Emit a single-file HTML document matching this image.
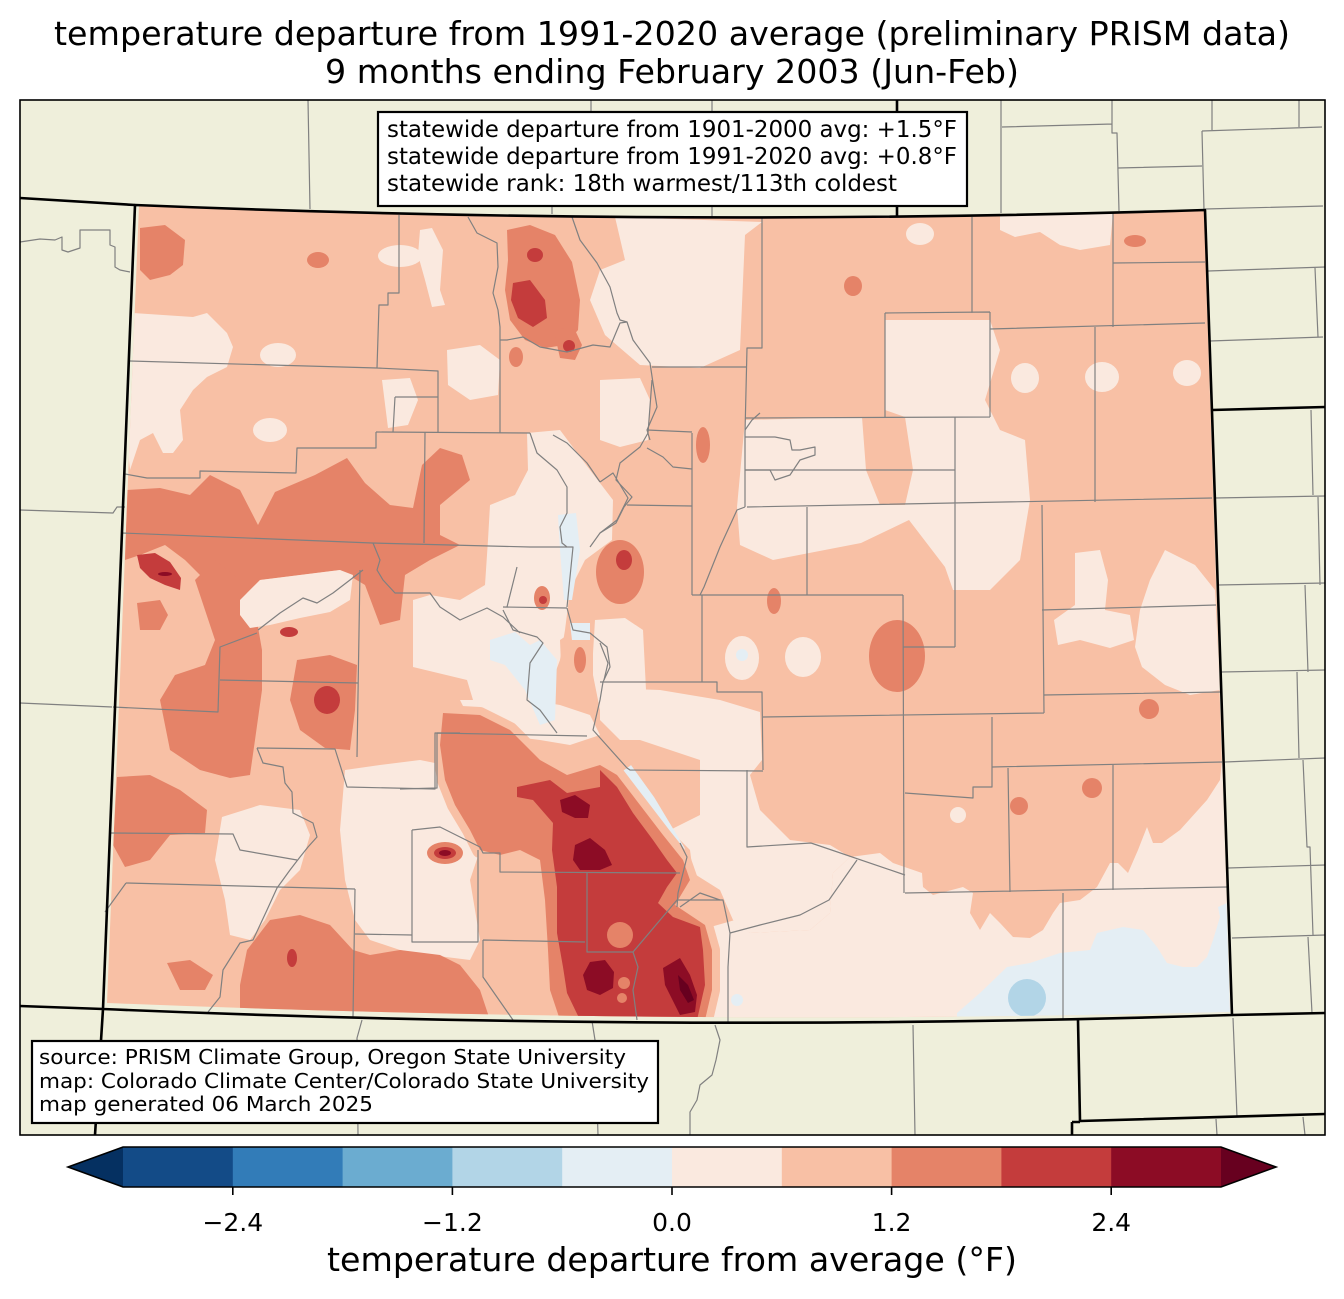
<!DOCTYPE html>
<html><head><meta charset="utf-8"><style>
html,body{margin:0;padding:0;background:#fff;}
svg{display:block;}
text{font-family:"DejaVu Sans","Liberation Sans",sans-serif;fill:#000;}
</style></head><body>
<svg width="1344" height="1299" viewBox="0 0 1344 1299" xmlns="http://www.w3.org/2000/svg">
<defs>
<clipPath id="co"><path d="M139,205 Q670,227 1204,211 L1230,1012 Q668,1026 107,1003 Z"/></clipPath>
</defs>
<rect x="0" y="0" width="1344" height="1299" fill="#fff"/>
<rect x="20" y="100" width="1305" height="1035" fill="#efefdb"/>

<g clip-path="url(#co)">
<rect x="100" y="200" width="1140" height="830" fill="#f8c0a5"/>
<g fill="#fae9df">
<path d="M700,1030 L690,960 L700,930 L735,920 L750,933 L810,930 L830,913 L833,873 L850,857 L880,853 L893,863 L922,873 L923,887 L933,895 L963,887 L973,893 L970,913 L980,930 L990,913 L1000,923 L1013,937 L1030,938 L1043,930 L1053,913 L1060,903 L1080,900 L1097,887 L1110,863 L1118,863 L1128,873 L1138,850 L1147,827 L1153,843 L1162,843 L1180,830 L1207,800 L1220,780 L1222,760 L1240,760 L1240,1030 Z"/>
<path d="M600,688 L660,690 L720,700 L760,712 L762,760 L750,775 L760,810 L790,840 L830,845 L850,857 L833,873 L830,913 L810,930 L750,933 L733,920 L720,890 L693,873 L690,850 L670,830 L700,815 L700,760 L640,740 L620,740 L600,720 Z"/>
<path d="M595,620 L625,618 L643,630 L646,690 L640,722 L615,725 L600,710 L592,670 Z"/>
<path d="M745,420 L862,417 L866,470 L880,505 L905,505 L913,470 L905,417 L885,410 L885,320 L990,320 L1000,350 L985,400 L1000,430 L1025,440 L1030,500 L1020,560 L990,590 L953,590 L945,567 L909,520 L861,543 L773,560 L740,545 L737,507 Z"/>
<path d="M1000,213 L1113,213 L1110,245 L1080,250 L1060,245 L1040,232 L1015,237 L1000,230 Z"/>
<path d="M615,217 L762,222 L745,235 L740,350 L700,368 L640,365 L605,335 L590,300 L600,270 L625,260 Z"/>
<path d="M527,433 L560,430 L590,470 L613,500 L612,540 L585,560 L570,590 L565,630 L560,660 L545,700 L527,720 L500,707 L473,700 L467,680 L413,667 L413,600 L430,595 L460,600 L485,585 L488,540 L490,505 L515,495 L528,470 Z"/>
<path d="M133,313 L193,317 L207,313 L227,333 L233,347 L227,367 L207,377 L193,390 L180,410 L183,440 L173,453 L163,453 L153,433 L140,440 L130,470 L125,420 Z"/>
<path d="M1075,553 L1100,550 L1108,580 L1105,610 L1130,615 L1134,640 L1110,648 L1080,640 L1058,645 L1054,620 L1075,605 L1075,580 Z"/>
<path d="M1165,550 L1195,565 L1215,590 L1220,690 L1190,695 L1165,685 L1142,667 L1135,647 L1140,610 L1150,580 Z"/>
<path d="M345,770 L380,765 L420,760 L445,765 L460,790 L470,830 L480,850 L470,880 L480,940 L470,960 L430,955 L400,950 L370,940 L355,920 L345,880 L340,830 Z"/>
<path d="M222,817 L260,805 L300,810 L310,835 L300,870 L280,890 L265,920 L250,940 L230,935 L225,900 L215,860 Z"/>
<path d="M460,700 L530,700 L560,705 L590,715 L600,735 L570,745 L540,740 L500,735 L470,720 Z"/>
<path d="M420,230 L432,228 L443,250 L440,290 L445,305 L432,307 L425,280 L418,255 Z"/>
<path d="M447,350 L480,345 L500,360 L498,395 L470,400 L448,385 Z"/>
<path d="M382,380 L410,378 L418,400 L408,425 L388,428 Z"/>
<path d="M600,380 L640,378 L650,400 L648,440 L620,447 L600,440 Z"/>
<ellipse cx="400" cy="256" rx="22" ry="11"/>
<ellipse cx="270" cy="430" rx="17" ry="12"/>
<ellipse cx="278" cy="355" rx="18" ry="12"/>
<ellipse cx="920" cy="234" rx="14" ry="11"/>
<ellipse cx="1025" cy="378" rx="14" ry="15"/>
<ellipse cx="1102" cy="377" rx="17" ry="15"/>
<ellipse cx="1187" cy="373" rx="14" ry="13"/>
<ellipse cx="803" cy="657" rx="18" ry="20"/>
<ellipse cx="742" cy="658" rx="17" ry="22"/>
<ellipse cx="958" cy="815" rx="8" ry="8"/>
</g>
<path d="M560,640 L575,630 L593,645 L593,700 L575,707 L562,690 Z" fill="#f8c0a5"/>
<g fill="#e4eef4">
<path d="M957,1013 L980,993 L1007,967 L1030,963 L1060,953 L1090,950 L1097,933 L1123,927 L1143,930 L1157,947 L1167,963 L1183,967 L1197,967 L1207,957 L1213,940 L1220,917 L1218,907 L1227,903 L1240,903 L1240,1030 L957,1030 Z"/>
<path d="M558,515 L576,513 L580,550 L572,600 L564,600 L560,550 Z"/>
<path d="M490,640 L515,632 L530,645 L540,640 L557,660 L555,720 L540,725 L525,690 L505,665 L490,660 Z"/>
<path d="M570,623 L590,623 L590,640 L572,640 Z"/>
<circle cx="742" cy="655" r="6"/>
<circle cx="737" cy="1000" r="6"/>
</g>
<path d="M627,768 L650,800 L668,830 L680,850 L684,875" stroke="#e4eef4" stroke-width="10" fill="none"/>
<circle cx="1027" cy="998" r="19" fill="#b2d5e7"/>
<path d="M443,713 L480,715 L510,730 L540,760 L567,775 L600,765 L617,775 L640,805 L663,835 L683,860 L690,880 L675,905 L690,915 L705,925 L712,950 L712,990 L705,1020 L560,1020 L550,990 L548,950 L545,900 L540,860 L520,850 L500,855 L480,850 L470,830 L455,805 L445,780 L440,745 Z" fill="#f8c0a5" stroke="#f8c0a5" stroke-width="16" stroke-linejoin="round"/>
<g fill="#e58368">
<path d="M443,713 L480,715 L510,730 L540,760 L567,775 L600,765 L617,775 L640,805 L663,835 L683,860 L690,880 L675,905 L690,915 L705,925 L712,950 L712,990 L705,1020 L560,1020 L550,990 L548,950 L545,900 L540,860 L520,850 L500,855 L480,850 L470,830 L455,805 L445,780 L440,745 Z"/>
<path d="M140,228 L165,225 L185,240 L183,265 L170,275 L150,280 L140,270 Z"/>
<path d="M127,490 L160,488 L190,495 L210,475 L240,490 L258,525 L275,492 L315,475 L347,458 L365,483 L390,505 L413,508 L422,465 L440,448 L462,455 L470,480 L440,505 L440,535 L460,545 L430,560 L405,575 L400,620 L380,625 L365,585 L340,570 L300,575 L260,580 L240,600 L220,590 L200,575 L185,560 L165,545 L140,555 L125,560 Z"/>
<path d="M215,560 L240,580 L255,610 L262,650 L262,690 L255,740 L250,775 L230,778 L200,770 L170,750 L160,700 L175,675 L205,665 L215,640 L205,610 L195,580 Z"/>
<path d="M137,603 L160,600 L168,615 L160,630 L140,630 Z"/>
<path d="M297,660 L330,655 L357,665 L355,710 L350,750 L325,748 L300,730 L290,700 Z"/>
<path d="M117,777 L150,775 L180,790 L207,810 L205,833 L170,835 L150,860 L125,867 L113,845 Z"/>
<path d="M247,950 L270,920 L300,915 L330,925 L353,950 L370,955 L400,950 L440,955 L460,965 L480,990 L490,1020 L240,1020 L240,985 Z"/>
<path d="M167,963 L190,960 L213,975 L205,990 L180,990 Z"/>
<path d="M507,230 L530,225 L555,235 L572,262 L580,300 L578,330 L565,345 L545,348 L525,340 L510,320 L505,290 L508,260 Z"/>
<path d="M553,327 L575,330 L582,345 L575,360 L560,358 Z"/>
<ellipse cx="897" cy="656" rx="28" ry="36"/>
<circle cx="1149" cy="709" r="10"/>
<circle cx="1092" cy="788" r="10"/>
<circle cx="1019" cy="806" r="9"/>
<ellipse cx="774" cy="601" rx="7" ry="13"/>
<ellipse cx="703" cy="445" rx="7" ry="18"/>
<ellipse cx="853" cy="286" rx="9" ry="10"/>
<ellipse cx="1135" cy="241" rx="11" ry="6"/>
<ellipse cx="318" cy="260" rx="11" ry="8"/>
<ellipse cx="516" cy="357" rx="7" ry="10"/>
<ellipse cx="620" cy="572" rx="24" ry="32"/>
<ellipse cx="445" cy="853" rx="18" ry="11"/>
<ellipse cx="542" cy="598" rx="8" ry="12"/>
<ellipse cx="580" cy="660" rx="6" ry="13"/>
</g>
<path d="M240,600 L260,580 L300,575 L340,570 L353,575 L350,600 L330,612 L300,618 L270,625 L250,628 L240,615 Z" fill="#fae9df"/>
<g fill="#c43c3c">
<path d="M517,787 L550,780 L567,793 L600,787 L600,770 L617,787 L633,813 L653,840 L667,860 L677,873 L667,887 L658,903 L673,917 L700,927 L703,950 L705,985 L697,1020 L580,1020 L567,993 L563,967 L557,933 L557,887 L552,850 L553,823 L533,800 L517,797 Z"/>
<path d="M137,555 L155,553 L170,562 L181,578 L180,590 L165,585 L150,578 L140,568 Z"/>
<path d="M513,283 L530,280 L545,300 L547,318 L533,327 L518,318 L511,300 Z"/>
<ellipse cx="289" cy="632" rx="9" ry="5"/>
<ellipse cx="327" cy="700" rx="13" ry="14"/>
<ellipse cx="292" cy="958" rx="5" ry="9"/>
<ellipse cx="535" cy="255" rx="8" ry="7"/>
<circle cx="569" cy="346" r="6"/>
<ellipse cx="624" cy="560" rx="8" ry="10"/>
<ellipse cx="445" cy="853" rx="11" ry="6"/>
<circle cx="543" cy="600" r="4"/>
</g>
<g fill="#e58368">
<circle cx="620" cy="935" r="13"/>
<circle cx="624" cy="983" r="6"/>
<circle cx="622" cy="998" r="5"/>
</g>
<g fill="#8c0c25">
<path d="M560,800 L575,795 L590,805 L588,818 L575,818 L562,812 Z"/>
<path d="M575,845 L590,838 L605,850 L612,865 L600,870 L580,870 L573,860 Z"/>
<path d="M590,962 L605,960 L614,972 L613,988 L600,995 L587,990 L583,975 Z"/>
<path d="M663,968 L680,958 L690,975 L697,995 L695,1012 L680,1015 L670,995 L665,985 Z"/>
<ellipse cx="445" cy="853" rx="6" ry="3"/>
<ellipse cx="165" cy="574" rx="7" ry="2"/>
</g>
<path d="M678,975 L688,985 L694,1000 L688,1003 L680,990 Z" fill="#67001f"/>
</g>

<g fill="none" stroke="#808080" stroke-width="1.2" stroke-linejoin="round">
<path d="M308,100 L310,209 M591,100 L591,112 M712,100 L712,112 M552,207 L552,214 M712,206 L712,217"/>
<path d="M1001,100 L1001,213 M1002,127 L1112,124 M1112,100 L1112,133 L1117,133 L1119,211 M1118,168 L1202,166 M1202,131 L1204,210 M1202,131 L1322,127 M1212,100 L1212,130 M1299,100 L1299,127"/>
<path d="M1205,209 L1323,206 M1208,271 L1325,267 M1315,268 L1318,337 M1210,341 L1323,337"/>
<path d="M1215,498 L1325,496 M1311,410 L1313,495 M1318,497 L1320,585 M1218,585 L1325,583 M1305,585 L1308,672 M1221,672 L1325,670 M1297,672 L1299,758 M1225,762 L1325,758 M1303,760 L1307,847 L1310,847 L1313,935 M1228,868 L1325,865 M1232,938 L1325,935 M1308,937 L1312,1013"/>
<path d="M1233,1018 L1237,1117 M1216,1119 L1217,1135 M1303,1117 L1305,1135"/>
<path d="M913,1025 L915,1135 M715,1025 L720,1040 L716,1060 L712,1075 L700,1085 L697,1100 L690,1112 L690,1135 M592,1021 L595,1040 L598,1135 M362,1020 L357,1038 L358,1135"/>
<path d="M20,242 L40,239 L55,240 L62,237 L62,250 L68,252 L80,248 L80,230 L110,230 L110,245 L115,247 L115,267 L120,270 L130,272 M20,510 L113,513 L117,507 L125,507 M20,703 L112,707"/>
<path d="M399,215 L399,293 L388,293 L388,305 L379,305 L377,368 M130,361 L377,368 L438,371 L438,432 M395,397 L438,397 M395,397 L393,432 M376,432 L530,433"/>
<path d="M376,432 L376,448 L297,448 L296,473 L200,471 L200,478 L147,478 L125,474 M425,432 L424,543 M122,533 L372,543 L530,547 L567,547"/>
<path d="M500,340 L500,433 M468,217 L477,233 L497,243 L498,267 L493,293 L498,310 L500,327 L500,340 L507,340 L523,337 L540,347 L567,352 L593,345 L610,347 L620,323 L627,322"/>
<path d="M572,217 L580,240 L597,263 L610,287 L617,313 L620,320 L627,322 L633,340 L650,363 L653,383 L657,407 L647,430 L650,440"/>
<path d="M762,217 L762,348 L747,348 L745,433 L745,507 M652,367 L747,367 M647,430 L692,432 M647,448 L663,457 L673,467 L692,469 M692,433 L692,595 M627,505 L692,506"/>
<path d="M600,482 L613,473 L628,498 L617,520 L600,533 L590,547 M530,433 L537,453 L557,470 L567,487 L567,513 L560,527 L562,543 L567,547 L573,547 L567,607 M553,435 L567,443 L587,463 L600,482 M503,607 L567,608 M517,567 L507,607"/>
<path d="M503,610 L513,630 L537,637 L543,643 L530,663 L527,700 L540,710 L557,733 M567,608 L573,630 L590,633 L607,647 L610,667 L603,682 L600,700 L593,730 L627,768 L630,770 L763,771"/>
<path d="M600,682 L717,682 L717,692 L762,692 L763,770 M702,595 L702,682 M692,595 L903,595 M807,507 L807,595 M747,507 L1212,498 M903,595 L904,893 M903,647 L955,647 M955,417 L955,647"/>
<path d="M745,418 L990,417 M745,470 L955,470 M885,313 L885,418 M990,312 L990,417 M885,313 L990,312 M972,217 L972,313 M990,329 L1205,323 M1113,213 L1113,327 M1113,263 L1205,262 M1095,327 L1095,502 M1042,505 L1044,713 M1042,610 L1216,605 M1044,695 L1220,692 M763,717 L1044,713"/>
<path d="M992,717 L992,787 L973,787 L973,798 L905,793 M992,767 L1222,762 M1008,768 L1010,892 M1113,765 L1113,890 M905,893 L1227,887 M1063,893 L1063,1020 M811,843 L905,875 M747,770 L747,847 L811,843 M857,860 L829,900 L800,915 L760,925 L730,933"/>
<path d="M745,437 L775,437 L790,440 L792,450 L800,450 L815,447 L815,455 L800,460 L790,475 L775,480 L770,470 L745,470 M760,413 L752,420 L745,430 M652,380 L648,433 L640,447 L620,463 L616,480 L632,497 L624,507 L616,523 L600,533 M745,507 L737,510 L720,547 L704,587 L700,595 M600,643 L608,663 L604,680"/>
<path d="M113,707 L218,712 L220,647 L257,633 M220,680 L358,683 M360,570 L357,757 M257,748 L335,749 L347,787 L435,789 L435,733 L460,733"/>
<path d="M257,748 L263,763 L283,767 L285,783 L292,792 L293,813 L313,823 L317,837 L308,847 L300,857 L290,870 L277,888 L267,910 L253,940 L240,943 L223,970 L220,997 L208,1012"/>
<path d="M110,833 L233,834 L240,850 L297,860 M126,883 L355,889 M126,883 L105,912 M355,889 L353,1017 M355,934 L412,935"/>
<path d="M412,830 L412,942 L478,942 L478,850 M412,830 L440,827 L460,837 L480,847 L483,853 L500,853 L500,872 L680,873 M587,873 L587,952 L633,952 L638,967 L633,990 L637,1020 M633,952 L677,900 L723,900 L730,933 L728,967 L728,1023"/>
<path d="M483,940 L585,942 M483,940 L483,977 L513,1020 M437,733 L587,736 M437,733 L437,788 L400,789"/>
<path d="M258,630 L280,613 L303,598 L317,603 L333,593 L363,570 M373,543 L380,560 L377,570 L383,580 L395,593 L430,593 L440,607 L460,620 L487,608 L503,617 L520,633"/>
<path d="M680,843 L687,857 L683,873 L678,893 L677,907 M680,907 L700,893 L720,900"/>
</g>

<g fill="none" stroke="#000" stroke-width="2.6" stroke-linejoin="round">
<path d="M135,205 Q670,227 1205,210 L1212,412 L1232,1015 Q668,1033 103,1009 Z"/>
<path d="M20,198 L135,205 M897,100 L897,216 M1212,410 L1325,407 M103,1009 L95,1135 M20,1006 L103,1009 M1232,1015 L1325,1013 M1078,1020 L1080,1121 L1325,1114 M1072,1122 L1080,1122 M1072,1122 L1072,1135"/>
</g>
<rect x="20" y="100" width="1305" height="1035" fill="none" stroke="#000" stroke-width="1.6"/>

<rect x="378" y="112" width="589" height="94" fill="#fff" stroke="#000" stroke-width="2.2"/>
<text x="387" y="137" font-size="22.9" textLength="570" lengthAdjust="spacingAndGlyphs">statewide departure from 1901-2000 avg: +1.5°F</text>
<text x="387" y="164" font-size="22.9" textLength="570" lengthAdjust="spacingAndGlyphs">statewide departure from 1991-2020 avg: +0.8°F</text>
<text x="387" y="191" font-size="22.9" textLength="510" lengthAdjust="spacingAndGlyphs">statewide rank: 18th warmest/113th coldest</text>

<rect x="32" y="1041" width="626" height="82" fill="#fff" stroke="#000" stroke-width="2.2"/>
<text x="39" y="1064" font-size="20.8" textLength="587" lengthAdjust="spacingAndGlyphs">source: PRISM Climate Group, Oregon State University</text>
<text x="39" y="1088" font-size="20.8" textLength="610" lengthAdjust="spacingAndGlyphs">map: Colorado Climate Center/Colorado State University</text>
<text x="39" y="1111" font-size="20.8" textLength="334" lengthAdjust="spacingAndGlyphs">map generated 06 March 2025</text>

<text x="54" y="45" font-size="33.3" textLength="1236" lengthAdjust="spacingAndGlyphs">temperature departure from 1991-2020 average (preliminary PRISM data)</text>
<text x="325" y="83" font-size="33.3" textLength="694" lengthAdjust="spacingAndGlyphs">9 months ending February 2003 (Jun-Feb)</text>

<polygon points="68,1167 123,1147 123,1187" fill="#053061"/>
<polygon points="1221,1147 1276,1167 1221,1187" fill="#67001f"/>
<rect x="123" y="1147" width="110.3" height="40" fill="#134b87"/>
<rect x="232.8" y="1147" width="110.3" height="40" fill="#327cb8"/>
<rect x="342.6" y="1147" width="110.3" height="40" fill="#6bacd0"/>
<rect x="452.4" y="1147" width="110.3" height="40" fill="#b2d5e7"/>
<rect x="562.2" y="1147" width="110.3" height="40" fill="#e4eef4"/>
<rect x="672" y="1147" width="110.3" height="40" fill="#fae9df"/>
<rect x="781.8" y="1147" width="110.3" height="40" fill="#f8c0a5"/>
<rect x="891.6" y="1147" width="110.3" height="40" fill="#e58368"/>
<rect x="1001.4" y="1147" width="110.3" height="40" fill="#c43c3c"/>
<rect x="1111.2" y="1147" width="109.8" height="40" fill="#8c0c25"/>
<polygon points="68,1167 123,1147 1221,1147 1276,1167 1221,1187 123,1187" fill="none" stroke="#000" stroke-width="1.6"/>
<g stroke="#000" stroke-width="1.6">
<line x1="232.8" y1="1187" x2="232.8" y2="1195"/>
<line x1="452.4" y1="1187" x2="452.4" y2="1195"/>
<line x1="672" y1="1187" x2="672" y2="1195"/>
<line x1="891.6" y1="1187" x2="891.6" y2="1195"/>
<line x1="1111.2" y1="1187" x2="1111.2" y2="1195"/>
</g>
<g font-size="25" text-anchor="middle">
<text x="232.8" y="1231">−2.4</text>
<text x="452.4" y="1231">−1.2</text>
<text x="672" y="1231">0.0</text>
<text x="891.6" y="1231">1.2</text>
<text x="1111.2" y="1231">2.4</text>
</g>
<text x="327" y="1271" font-size="33.3" textLength="690" lengthAdjust="spacingAndGlyphs">temperature departure from average (°F)</text>
</svg>
</body></html>
